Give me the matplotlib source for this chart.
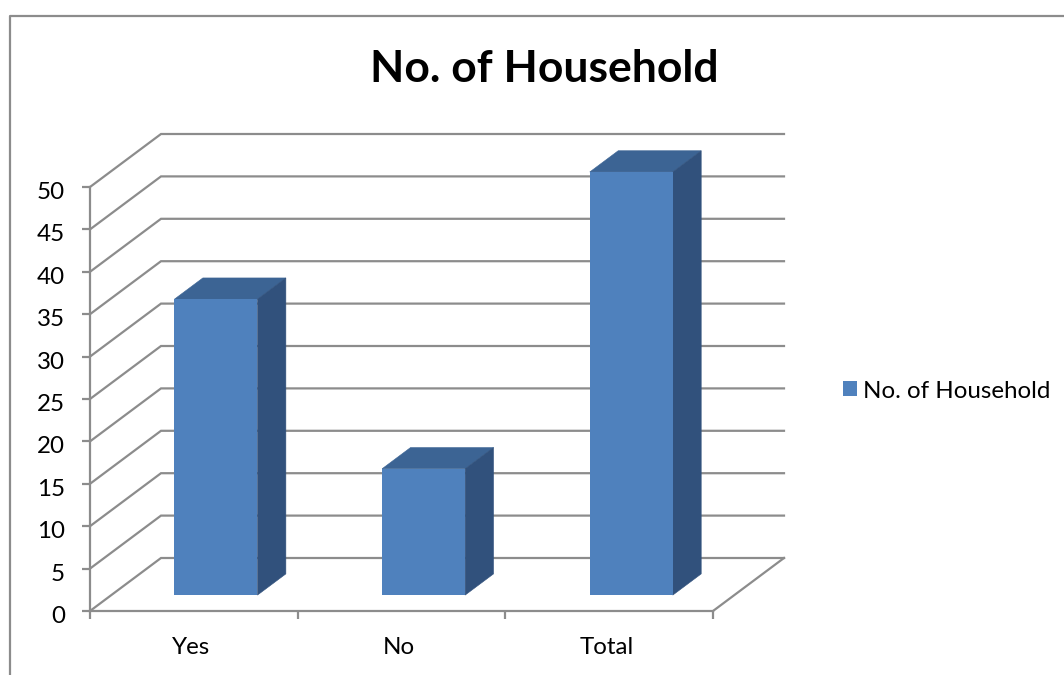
import matplotlib.pyplot as plt
from matplotlib.lines import Line2D
from matplotlib.patches import Polygon, Patch
from matplotlib.transforms import ScaledTranslation

categories = ['Yes', 'No', 'Total']
values = [35, 15, 50]
y_ticks = [0, 5, 10, 15, 20, 25, 30, 35, 40, 45, 50]
title = 'No. of Household'

W, H = 1064, 675
GREY = '#8c8c8c'
FRONT = '#4f81bd'
TOP = '#3c6494'
SIDE = '#31517c'
LW = 1.6

plt.rcParams['font.family'] = ['Lato', 'DejaVu Sans']

fig = plt.figure(figsize=(W / 100, H / 100), dpi=100)

# axes box = front face of the fake 3D chart
x0, x1, y0, y50 = 90, 713, 611, 187
ax = fig.add_axes([x0 / W, 1 - y0 / H, (x1 - x0) / W, (y0 - y50) / H])
ax.set_xlim(0, len(categories))
ax.set_ylim(0, 50)
ax.patch.set_visible(False)

# depth of the chart floor, in data units
dx = 71 / ((x1 - x0) / len(categories))
dy = 53 / ((y0 - y50) / 50)

# walls
for v in y_ticks:
    ax.plot([0, dx, len(categories) + dx], [v, v + dy, v + dy], color=GREY, lw=LW,
            clip_on=False, zorder=1, solid_joinstyle='miter')
ax.plot([len(categories), len(categories) + dx], [0, dy], color=GREY, lw=LW, clip_on=False, zorder=1)

# bars, front face last so the seams stay clean
bar_w = 83 / ((x1 - x0) / len(categories))
for i, v in enumerate(values):
    left = i + 0.5 - bar_w / 2 + 0.3 * dx + 0.004
    right = left + bar_w
    base = 0.3 * dy
    top = v + base - 0.1
    ddx, ddy = 0.4 * dx, 0.4 * dy
    ax.add_patch(Polygon([(left, top), (right, top), (right + ddx, top + ddy), (left + ddx, top + ddy)],
                         fc=TOP, ec=TOP, lw=0.4, clip_on=False, zorder=3))
    ax.add_patch(Polygon([(right, base), (right + ddx, base + ddy), (right + ddx, top + ddy), (right, top)],
                         fc=SIDE, ec=SIDE, lw=0.4, clip_on=False, zorder=3))
    ax.add_patch(Polygon([(left, base), (right, base), (right, top), (left, top)],
                         fc=FRONT, ec='none', clip_on=False, zorder=3))

for side in ['top', 'right']:
    ax.spines[side].set_visible(False)
for side in ['left', 'bottom']:
    ax.spines[side].set_color(GREY)
    ax.spines[side].set_linewidth(LW)
    ax.spines[side].set_zorder(2)

ax.set_yticks(y_ticks)
ax.set_xticks(range(len(categories) + 1))
ax.set_xticklabels([''] * (len(categories) + 1))
ax.tick_params(axis='both', color=GREY, width=LW, length=6, labelsize=17.4, labelcolor='black')
ax.tick_params(axis='y', pad=12)
# digits sit a bit under their tick in the original
for lab in ax.get_yticklabels():
    lab.set_transform(lab.get_transform() + ScaledTranslation(0, -2.5 / 72, fig.dpi_scale_trans))
for i, c in enumerate(categories):
    ax.text(i + 0.487, -4.3, c, ha='center', va='center', fontsize=17.4, color='black')

# outer frame, only left and top show up
fig.add_artist(Line2D([10 / W, 10 / W, 1], [0, 1 - 15.5 / H, 1 - 15.5 / H], color=GREY, lw=LW))

fig.text(544 / W, 1 - 68.5 / H, title, ha='center', va='center', fontsize=32, fontweight='bold', color='black')

fig.legend(handles=[Patch(fc=FRONT, ec='none', label=title)], loc='center left',
           bbox_to_anchor=(843 / W, 1 - 391 / H), frameon=False, fontsize=17.4,
           handlelength=0.58, handleheight=0.58, handletextpad=0.25, borderpad=0, borderaxespad=0)

fig.savefig('out.png', dpi=100)
